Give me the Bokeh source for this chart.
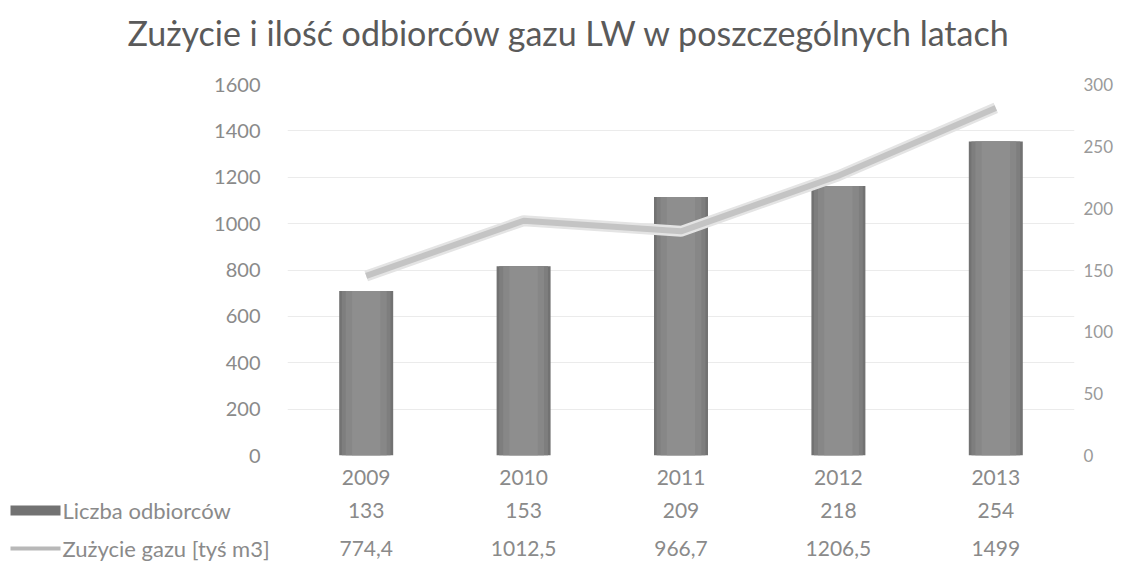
from bokeh.plotting import figure
from bokeh.layouts import column, row
from bokeh.models import Range1d, LinearAxis, FixedTicker
from bokeh.core.properties import value
from bokeh.embed import file_html
from bokeh.resources import INLINE

title = "Zużycie i ilość odbiorców gazu LW w poszczególnych latach"
years = ["2009", "2010", "2011", "2012", "2013"]
odbiorcy = [133, 153, 209, 218, 254]
zuzycie = [774.4, 1012.5, 966.7, 1206.5, 1499]
left_ticks = [0, 200, 400, 600, 800, 1000, 1200, 1400, 1600]
right_ticks = [0, 50, 100, 150, 200, 250, 300]
name_bars = "Liczba odbiorców"
name_line = "Zużycie gazu [tyś m3]"

FONT = "Lato"
TXT = "#8a8a8a"
BAR = "#727272"
LINE = "#c4c4c4"
xs = list(range(len(years)))

def fmt(v):
    return f"{v:g}".replace(".", ",")

# layout (pixels)
W = 1135
FL, FR = 287, 1074          # frame left / right
FT, FB = 84, 455            # frame top / bottom
TITLE_H = 60
MAIN_H = 489 - TITLE_H
TABLE_H = 76
ROW_GAP = 38

# ---------------- title strip ----------------
tf = figure(width=W, height=TITLE_H, output_backend="svg", toolbar_location=None,
            x_axis_type=None, y_axis_type=None, min_border=0,
            x_range=Range1d(0, W), y_range=Range1d(TITLE_H, 0))
tf.outline_line_color = None
tf.grid.visible = False
tf.text(x=[127], y=[32], text=[title], text_align="left", text_baseline="alphabetic",
        text_font=value(FONT), text_font_size="34px", text_color="#5a5a5a")

# ---------------- main chart ----------------
p = figure(width=W, height=MAIN_H, output_backend="svg", toolbar_location=None,
           x_range=Range1d(-0.5, len(years) - 0.5), y_range=Range1d(0, 1600),
           min_border_left=FL, min_border_right=W - FR, min_border_top=FT - TITLE_H,
           min_border_bottom=TITLE_H + MAIN_H - FB)
p.outline_line_color = None
p.border_fill_color = "white"

p.extra_y_ranges = {"right": Range1d(0, 300)}

p.xgrid.visible = False
p.ygrid.grid_line_color = "#ebebeb"
p.ygrid.grid_line_width = 1
p.yaxis.ticker = FixedTicker(ticks=left_ticks)

def style_axis(ax, standoff, size="20px"):
    ax.axis_line_color = None
    ax.major_tick_line_color = None
    ax.minor_tick_line_color = None
    ax.major_label_text_font = FONT
    ax.major_label_text_font_size = size
    ax.major_label_text_color = TXT
    ax.major_label_standoff = standoff

style_axis(p.yaxis[0], 21)

ax_r = LinearAxis(y_range_name="right", ticker=FixedTicker(ticks=right_ticks))
style_axis(ax_r, 3, "17px")
ax_r.major_label_text_color = "#9a9a9a"
p.add_layout(ax_r, "right")

xa = p.xaxis[0]
xa.ticker = FixedTicker(ticks=xs)
xa.major_label_overrides = {i: y for i, y in zip(xs, years)}
style_axis(xa, 8, "21px")

# bars on the secondary axis, layered for a shaded look
for w, c in [(0.343, BAR), (0.31, "#7e7e7e"), (0.26, "#878787"), (0.18, "#8e8e8e")]:
    p.vbar(x=xs, top=odbiorcy, width=w, y_range_name="right",
           fill_color=c, line_color=None)

# line on the primary axis
p.line(xs, zuzycie, line_color="#e4e4e4", line_width=11)
p.line(xs, zuzycie, line_color=LINE, line_width=6)

# ---------------- data table ----------------
y_rng = (-(TABLE_H - 21 - ROW_GAP) / ROW_GAP, 1 + 21 / ROW_GAP)
row_bars, row_line = 1, 0

# legend column (left of the table)
lg = figure(width=FL, height=TABLE_H, output_backend="svg", toolbar_location=None,
            x_axis_type=None, y_axis_type=None, min_border=0,
            x_range=Range1d(0, FL), y_range=Range1d(*y_rng))
lg.outline_line_color = None
lg.grid.visible = False
lg.quad(left=[10], right=[60], bottom=[row_bars - 5 / ROW_GAP], top=[row_bars + 5 / ROW_GAP],
        fill_color=BAR, line_color=None)
lg.segment(x0=[10], x1=[60], y0=[row_line], y1=[row_line], line_color="#b8b8b8", line_width=4)
lg.text(x=[62, 62], y=[row_bars, row_line], text=[name_bars, name_line],
        text_align="left", text_baseline="middle", text_font=value(FONT),
        text_font_size="22px", text_color=TXT)

t = figure(width=W - FL, height=TABLE_H, output_backend="svg", toolbar_location=None,
           x_axis_type=None, y_axis_type=None, min_border=0, min_border_right=W - FR,
           x_range=Range1d(-0.5, len(years) - 0.5), y_range=Range1d(*y_rng))
t.outline_line_color = None
t.grid.visible = False
t.text(x=xs, y=[row_bars] * len(xs), text=[fmt(v) for v in odbiorcy],
       text_align="center", text_baseline="middle", text_font=value(FONT),
       text_font_size="21px", text_color=TXT)
t.text(x=xs, y=[row_line] * len(xs), text=[fmt(v) for v in zuzycie],
       text_align="center", text_baseline="middle", text_font=value(FONT),
       text_font_size="21px", text_color=TXT)

layout = column(row(tf), p, row(lg, t, spacing=0), spacing=0)
open("out.html", "w").write(file_html(layout, INLINE))
